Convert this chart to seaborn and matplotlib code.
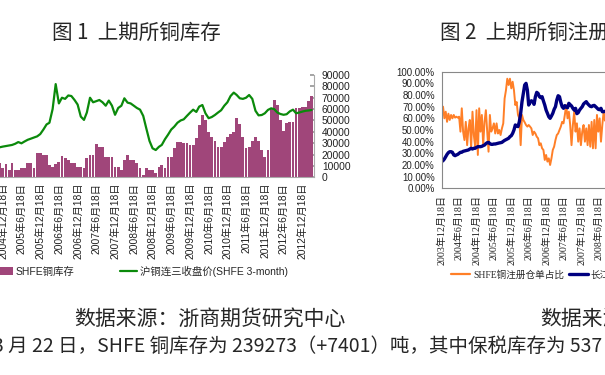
import numpy as np
import pandas as pd
import seaborn as sns
import matplotlib.pyplot as plt
from matplotlib.patches import Patch
from matplotlib.lines import Line2D

sns.set_theme(style='white')
plt.rcParams['font.family'] = ['Liberation Sans', 'Noto Sans CJK SC', 'DejaVu Sans']
plt.rcParams['axes.unicode_minus'] = False

# ---- figure 1: SHFE copper stocks (monthly) ----
months1 = pd.date_range('2004-10-01', periods=102, freq='MS') + pd.Timedelta(days=14)
stocks = [12000, 12300, 7900,
          11700, 6500, 12300, 6500, 6500, 7900, 8500, 12300, 12300, 7900, 21700, 21700,
          19600, 19600, 10900, 9400, 12000, 13800, 18800, 17000, 15300, 12300, 12300, 9400,
          9400, 7900, 16700, 19600, 19600, 29300, 27000, 27000, 18200, 18200, 17600, 9400,
          9400, 6500, 15300, 19600, 15300, 15300, 12300, 7900, 2000, 7900, 6500, 6500,
          3500, 9400, 10900, 7900, 18200, 18200, 25500, 31400, 31400, 30000, 30000, 28500,
          28500, 34300, 46000, 55000, 50000, 40000, 35800, 32000, 27000, 27000, 31400, 35800,
          38000, 40200, 51900, 47000, 35800, 25500, 27000, 32000, 35800, 32000, 24000, 18200,
          24000, 60000, 68000, 63600, 50000, 41000, 48000, 49000, 49000, 61000, 61000, 62000,
          62000, 67000, 71600]
price = [26000, 26400, 27000,
         27500, 28000, 28450, 29500, 31000, 29900, 31500, 33000, 34000, 35000, 36000, 38000,
         42000, 46500, 48000, 60000, 82000, 65000, 70000, 69000, 72000, 71500, 68000, 64000,
         53400, 50500, 57000, 70000, 66000, 67000, 68000, 66000, 63000, 67500, 63000, 55000,
         61000, 63000, 69500, 65700, 65000, 63000, 61000, 59500, 54000, 43000, 32000, 25500,
         24000, 26800, 28500, 33500, 37500, 42000, 44600, 48000, 50000, 51000, 54000, 56800,
         59500, 57500, 62200, 63600, 56300, 52000, 53000, 54800, 57000, 59000, 63000, 66000,
         71500, 74500, 72500, 69500, 69000, 70000, 72400, 69000, 58500, 54500, 54800, 56300,
         59300, 60700, 60000, 57000, 55700, 55000, 55500, 58000, 59500, 56300, 57000, 57800,
         58500, 58800, 59200]
ticks1 = ['2004-12-18', '2005-06-18', '2005-12-18', '2006-06-18', '2006-12-18',
          '2007-06-18', '2007-12-18', '2008-06-18', '2008-12-18', '2009-06-18',
          '2009-12-18', '2010-06-18', '2010-12-18', '2011-06-18', '2011-12-18',
          '2012-06-18', '2012-12-18']
yticks1 = [0, 10000, 20000, 30000, 40000, 50000, 60000, 70000, 80000, 90000]

# ---- figure 2: registered warrant share (%), fortnightly ----
dates2 = pd.date_range('2003-12-18', periods=124, freq='14D')
warrant = [61.4, 70, 60, 65.7, 57, 64, 58.6, 62.9, 60, 62.9,
           60.6, 61.4, 60.6, 61.4, 48.6, 68.6, 48.6, 41.4, 57, 37,
           51.4, 58.6, 34.3, 65.7, 45.7, 35.7, 67, 28.6, 68.6, 48.6,
           62.9, 37, 57, 67, 48.6, 31.4, 62.9, 48.6, 51.4, 55.7,
           47, 55.7, 47, 50, 45.7, 51.4, 55.7, 77, 84, 94,
           88.6, 94, 85.7, 91.4, 84, 71.4, 74, 62.9, 60, 37,
           62.9, 58.6, 56.6, 54.3, 52.9, 54.3, 52.9, 51.4, 45.7, 48.6,
           47, 44.3, 42.9, 37, 38.6, 34.3, 32.9, 24.3, 28.6, 22.9,
           25.7, 20, 25.7, 32.9, 35.7, 41.4, 45.7, 47, 50, 52.9,
           57, 55.7, 62.9, 71.4, 60, 65.7, 54.3, 37, 54.3, 65.7,
           48.6, 55.7, 40, 51.4, 37, 48.6, 54.3, 40, 51.4, 37,
           54.3, 35.7, 57, 34.3, 58.6, 34.3, 62.9, 48.6, 60, 40,
           54.3, 65.7, 58, 62]
changjiang = [22.9, 23.7, 25.1, 27.1, 29.1, 30.6, 31.4, 31.4, 30.9, 28.6,
              28, 28.6, 29.1, 30, 30.9, 30.9, 31.7, 32, 32.3, 32.6,
              32.9, 33.7, 34.3, 33.7, 34.3, 34.3, 35.1, 35.7, 35.7, 35.7,
              36, 36.6, 37.1, 38.3, 39.1, 39.4, 38.3, 37.7, 37.7, 38,
              38, 38.3, 38.6, 38.9, 39.1, 39.4, 40.3, 41.1, 41.7, 42.3,
              42.9, 44.3, 45.1, 47.1, 50, 54.3, 53.7, 52.9, 57.1, 64.3,
              74.3, 81.4, 88.6, 90, 84.3, 71.4, 73.7, 75.1, 74.3, 72,
              78.6, 82.3, 81.4, 78.6, 77.7, 78.6, 74.9, 71.4, 67.1, 64.3,
              61.4, 60, 62, 64.3, 67.7, 70, 75.7, 79.4, 78.6, 73.7,
              70, 68.6, 70.9, 69.7, 69.1, 72.9, 71.7, 70.6, 68.6, 67.1,
              68.6, 64, 64.9, 67.1, 68.6, 70, 72.3, 73.4, 74.3, 72.6,
              71.4, 70.3, 70, 70.9, 71.1, 70, 68.9, 67.7, 67.4, 68.6,
              65.7, 65.7, 66, 66]
ticks2 = ['2003-12-18', '2004-06-18', '2004-12-18', '2005-06-18', '2005-12-18',
          '2006-06-18', '2006-12-18', '2007-06-18', '2007-12-18', '2008-06-18',
          '2008-12-18', '2009-06-18', '2009-12-18', '2010-06-18', '2010-12-18',
          '2011-06-18', '2011-12-18', '2012-06-18', '2012-12-18']
yticks2 = [0, 10, 20, 30, 40, 50, 60, 70, 80, 90, 100]

BAR_C = '#A0467A'
GREEN = '#0B8A0B'
ORANGE = '#FF7F27'
NAVY = '#000080'
SANS = ['Liberation Sans', 'Noto Sans CJK SC']
SERIF = ['Liberation Serif', 'Noto Sans CJK SC']
CJK = ['Noto Sans CJK SC', 'DejaVu Sans']

W, H = 605, 375
fig = plt.figure(figsize=(W / 100, H / 100), dpi=100)
fig.patch.set_facecolor('white')


def px_axes(x0, y0, x1, y1):
    return fig.add_axes([x0 / W, 1 - y1 / H, (x1 - x0) / W, (y1 - y0) / H])


def date_label(s):
    d = pd.Timestamp(s)
    return f'{d.year}年{d.month}月{d.day}日'


# left chart
ax1 = px_axes(-1, 75, 313.5, 177.3)
ax1.bar(months1, stocks, width=27, color=BAR_C, linewidth=0)
sns.lineplot(x=months1, y=price, ax=ax1, color=GREEN, linewidth=1.6)
ax1.set_xlim(pd.Timestamp('2004-11-08'), pd.Timestamp('2013-04-03'))
ax1.set_ylim(0, 90000)
ax1.yaxis.tick_right()
ax1.set_yticks(yticks1)
ax1.set_yticklabels([str(v) for v in yticks1], fontsize=7.4, family=SANS, color='#222222')
ax1.tick_params(axis='y', direction='in', length=3, pad=6, color='#999999')
ax1.set_xticks(pd.to_datetime(ticks1))
ax1.set_xticklabels([date_label(d) for d in ticks1], rotation=90, fontsize=7.4,
                    family=SANS, color='#222222')
ax1.tick_params(axis='x', length=0, pad=4)
for s in ['left', 'top']:
    ax1.spines[s].set_visible(False)
for s in ['right', 'bottom']:
    ax1.spines[s].set_color('#AAAAAA')
    ax1.spines[s].set_linewidth(0.8)
ax1.set_xlabel('')
ax1.set_ylabel('')

# right chart
ax2 = px_axes(441.7, 71.7, 765.6, 188.3)
sns.lineplot(x=dates2, y=warrant, ax=ax2, color=ORANGE, linewidth=1.4)
sns.lineplot(x=dates2, y=changjiang, ax=ax2, color=NAVY, linewidth=2.4)
ax2.set_xlim(pd.Timestamp('2003-12-18'), pd.Timestamp('2013-03-28'))
ax2.set_ylim(0, 100)
ax2.set_yticks(yticks2)
ax2.set_yticklabels([f'{v:.2f}%' for v in yticks2], fontsize=6.9, family=SANS, color='#222222')
ax2.set_xticks(pd.to_datetime(ticks2))
ax2.set_xticklabels([date_label(d) for d in ticks2], rotation=90, fontsize=7.2,
                    family=SERIF, color='#222222')
ax2.tick_params(axis='both', direction='in', length=3, pad=5, color='#888888')
for s in ax2.spines.values():
    s.set_color('#888888')
    s.set_linewidth(0.8)
ax2.set_xlabel('')
ax2.set_ylabel('')

# legends
h1 = [Patch(facecolor=BAR_C, edgecolor='none'), Line2D([], [], color=GREEN, lw=1.6)]
fig.legend(h1, ['SHFE铜库存', '沪铜连三收盘价(SHFE 3-month)'], loc='center left',
           bbox_to_anchor=(-4 / W, 1 - 271 / H), ncol=2, frameon=False,
           prop={'family': SANS, 'size': 7.5}, handlelength=1.6, handleheight=0.8,
           handletextpad=0.3, columnspacing=4.4, borderpad=0, borderaxespad=0)
h2 = [Line2D([], [], color=ORANGE, lw=1.6), Line2D([], [], color=NAVY, lw=2.4)]
fig.legend(h2, ['SHFE铜注册仓单占比', '长江现货铜价'], loc='center left',
           bbox_to_anchor=(451 / W, 1 - 275 / H), ncol=2, frameon=False,
           prop={'family': SERIF, 'size': 6.9}, handlelength=2.0,
           handletextpad=0.3, columnspacing=0.5, borderpad=0, borderaxespad=0)

# titles and document text
fig.text(52 / W, 1 - 33 / H, '图 1  上期所铜库存', fontsize=14.8, family=CJK,
         va='center', fontweight='medium')
fig.text(440 / W, 1 - 33 / H, '图 2  上期所铜注册仓单占比', fontsize=14.8, family=CJK,
         va='center', fontweight='medium')
fig.text(74 / W, 1 - 319 / H, '数据来源：浙商期货研究中心', fontsize=15, family=CJK, va='center')
fig.text(540 / W, 1 - 319 / H, '数据来源：浙商期货研究中心', fontsize=15, family=CJK, va='center')
fig.text(-7 / W, 1 - 346 / H, '3 月 22 日，SHFE 铜库存为 239273（+7401）吨，其中保税库存为 537',
         fontsize=14, family=CJK, va='center')

fig.savefig('out.png', dpi=100, facecolor='white')
